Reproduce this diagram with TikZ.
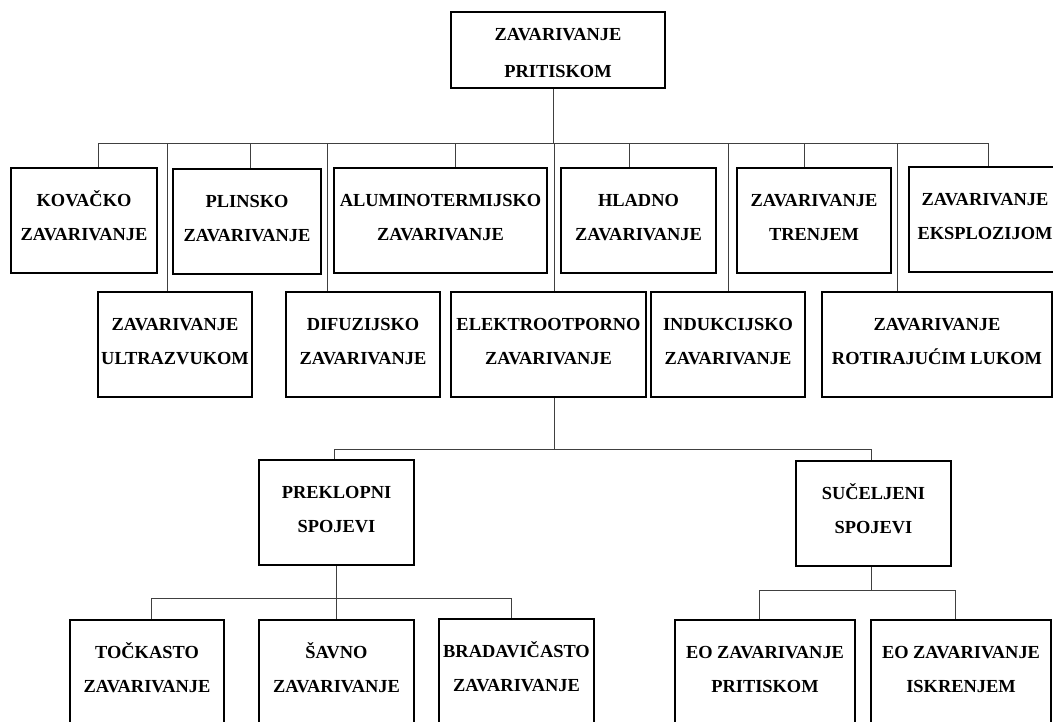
\documentclass[tikz,border=0pt]{standalone}
\usepackage{fontspec}
\setmainfont{Liberation Serif}
\usetikzlibrary{positioning}
\usetikzlibrary{calc}

\begin{document}
\begin{tikzpicture}
            [
                x=1pt, y=-1pt,
                box/.style={rectangle, draw, line width=2pt, inner sep=0pt, align=center, minimum height=105pt, text height=46pt, text depth=6pt, font=\bfseries\fontsize{18.4}{34}\selectfont},
                link/.style={draw=black!75, line width=1pt}
            ]
            \useasboundingbox (0,0) rectangle (1053,722);
            \clip (0,0) rectangle (1053,722);
            %nodes
            \node[box, minimum width=214pt, minimum height=76pt, text height=56pt, text depth=0pt, font=\bfseries\fontsize{18.4}{37}\selectfont] at (558,50) (zav_pritiskom) {ZAVARIVANJE\\PRITISKOM};
            \node[box, minimum width=146pt] at (84,220.5)       (kovacko)          {KOVAČKO\\ZAVARIVANJE};
            \node[box, minimum width=148pt] at (247,221.5)      (plinsko)          {PLINSKO\\ZAVARIVANJE};
            \node[box, minimum width=213pt] at (440.5,220.5)    (aluminotermijsko) {ALUMINOTERMIJSKO\\ZAVARIVANJE};
            \node[box, minimum width=155pt] at (638.5,220.5)    (hladno)           {HLADNO\\ZAVARIVANJE};
            \node[box, minimum width=154pt] at (814,220.5)      (trenjem)          {ZAVARIVANJE\\TRENJEM};
            \node[box, minimum width=152pt] at (985,219.5)      (eksplozijom)      {ZAVARIVANJE\\EKSPLOZIJOM};
            \node[box, minimum width=154pt] at (175,344.5)      (ultrazvukom)      {ZAVARIVANJE\\ULTRAZVUKOM};
            \node[box, minimum width=154pt] at (363,344.5)      (difuzijsko)       {DIFUZIJSKO\\ZAVARIVANJE};
            \node[box, minimum width=195pt] at (548.5,344.5)    (elektrootporno)   {ELEKTROOTPORNO\\ZAVARIVANJE};
            \node[box, minimum width=154pt] at (728,344.5)      (indukcijsko)      {INDUKCIJSKO\\ZAVARIVANJE};
            \node[box, minimum width=230pt] at (937,344.5)      (rotirajucim)      {ZAVARIVANJE\\ROTIRAJUĆIM LUKOM};
            \node[box, minimum width=155pt] at (336.5,512.5)    (preklopni)        {PREKLOPNI\\SPOJEVI};
            \node[box, minimum width=155pt] at (873.5,513.5)    (suceljeni)        {SUČELJENI\\SPOJEVI};
            \node[box, minimum width=154pt] at (147,672.5)      (tockasto)         {TOČKASTO\\ZAVARIVANJE};
            \node[box, minimum width=155pt] at (336.5,672.5)    (savno)            {ŠAVNO\\ZAVARIVANJE};
            \node[box, minimum width=155pt] at (516.5,671.5)    (bradavicasto)     {BRADAVIČASTO\\ZAVARIVANJE};
            \node[box, minimum width=180pt] at (765,672.5)      (eo_pritiskom)     {EO ZAVARIVANJE\\PRITISKOM};
            \node[box, minimum width=180pt] at (961,672.5)      (eo_iskrenjem)     {EO ZAVARIVANJE\\ISKRENJEM};
            %connection points
            \coordinate (root_out) at ($(zav_pritiskom.south west)!0.48!(zav_pritiskom.south east)$);
            \coordinate (eo_out)   at ($(elektrootporno.south west)!0.53!(elektrootporno.south east)$);
            \coordinate (suc_out)  at ($(suceljeni.south west)!0.49!(suceljeni.south east)$);
            %lines
            \draw[link] (root_out) -- ++(0,55) -| ($(kovacko.north west)!0.6!(kovacko.north east)$);
            \draw[link] (root_out) -- ++(0,55) -| ($(plinsko.north west)!0.52!(plinsko.north east)$);
            \draw[link] (root_out) -- ++(0,55) -| ($(aluminotermijsko.north west)!0.57!(aluminotermijsko.north east)$);
            \draw[link] (root_out) -- ++(0,55) -| ($(hladno.north west)!0.44!(hladno.north east)$);
            \draw[link] (root_out) -- ++(0,55) -| ($(trenjem.north west)!0.44!(trenjem.north east)$);
            \draw[link] (root_out) -- ++(0,55) -| ($(eksplozijom.north west)!0.52!(eksplozijom.north east)$);
            \draw[link] (root_out) -- ++(0,55) -| ($(ultrazvukom.north west)!0.45!(ultrazvukom.north east)$);
            \draw[link] (root_out) -- ++(0,55) -| ($(difuzijsko.north west)!0.27!(difuzijsko.north east)$);
            \draw[link] (root_out) -- ++(0,55) -| ($(elektrootporno.north west)!0.53!(elektrootporno.north east)$);
            \draw[link] (root_out) -- ++(0,55) -| (indukcijsko.north);
            \draw[link] (root_out) -- ++(0,55) -| ($(rotirajucim.north west)!0.33!(rotirajucim.north east)$);
            \draw[link] (eo_out) -- ++(0,51) -| ($(preklopni.north west)!0.49!(preklopni.north east)$);
            \draw[link] (eo_out) -- ++(0,51) -| ($(suceljeni.north west)!0.49!(suceljeni.north east)$);
            \draw[link] (preklopni.south) -- ++(0,32) -| ($(tockasto.north west)!0.53!(tockasto.north east)$);
            \draw[link] (preklopni.south) -- ++(0,32) -| (savno.north);
            \draw[link] (preklopni.south) -- ++(0,32) -| ($(bradavicasto.north west)!0.47!(bradavicasto.north east)$);
            \draw[link] (suc_out) -- ++(0,23) -| ($(eo_pritiskom.north west)!0.47!(eo_pritiskom.north east)$);
            \draw[link] (suc_out) -- ++(0,23) -| ($(eo_iskrenjem.north west)!0.47!(eo_iskrenjem.north east)$);
        \end{tikzpicture}
\end{document}
